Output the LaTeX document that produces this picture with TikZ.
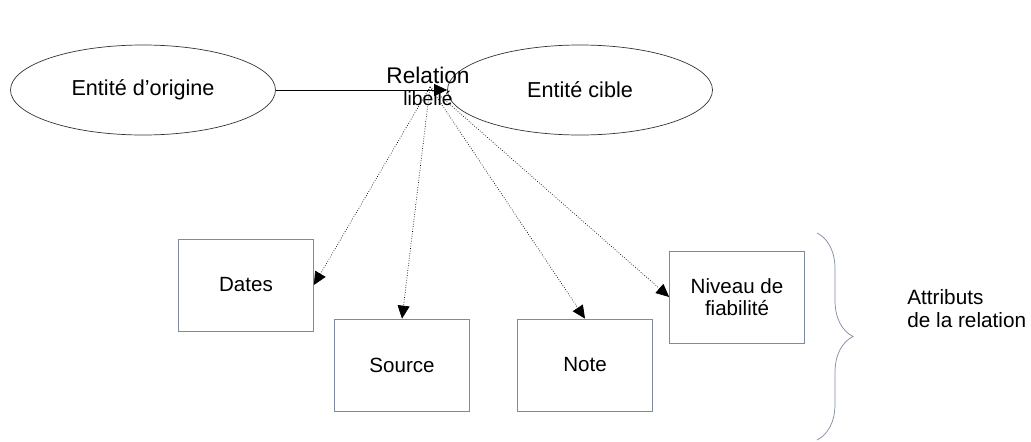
\documentclass[tikz,border=0pt]{standalone}
\usepackage{fontspec}
\setmainfont{Liberation Sans}
\usetikzlibrary{shapes.geometric}
\usetikzlibrary{arrows.meta}
\usetikzlibrary{decorations.pathreplacing}
\definecolor{boxline}{HTML}{7D8AA3}

\begin{document}
\begin{tikzpicture}[
  entity/.style={ellipse,draw=black!80,thin,minimum width=5.3cm,minimum height=1.8cm,font=\fontsize{12.3}{14}\selectfont},
  attr/.style={rectangle,draw=boxline,thin,minimum width=2.7cm,minimum height=1.84cm,align=center,font=\fontsize{11.7}{12.2}\selectfont},
  link/.style={densely dotted,thin,-{Triangle[length=2.6mm,width=2.4mm]}}
]
\useasboundingbox (0,0) rectangle (20.62,8.82);

\node[entity] (orig) at (2.86,7.02) {Entité d’origine};
\node[entity] (cible) at (11.6,7.02) {Entité cible};
\node[font=\fontsize{12.9}{14}\selectfont] (rel) at (8.56,7.32) {Relation};
\node[font=\fontsize{11}{13}\selectfont] (lib) at (8.56,6.86) {libellé};
\coordinate (src) at (8.6,7.08);

\node[attr] (dates) at (4.92,3.12) {Dates};
\node[attr] (source) at (8.04,1.52) {Source};
\node[attr] (note) at (11.7,1.52) {Note};
\node[attr] (niveau) at (14.74,2.88) {Niveau de\\fiabilité};

\draw[thin,-{Triangle[length=2.6mm,width=2.4mm]}] (orig) -- (cible);
\draw[link] (src) -- (dates.east);
\draw[link] (src) -- (source.north);
\draw[link] (src) -- (note.north);
\draw[link] (src) -- (niveau.west);

\draw[boxline,decorate,decoration={brace,amplitude=0.72cm}] (16.34,4.16) -- (16.34,0.02);
\node[anchor=west,align=left,inner sep=0pt,font=\fontsize{11.8}{13}\selectfont] (lbl) at (18.14,2.65) {Attributs\\de la relation};
\end{tikzpicture}
\end{document}
